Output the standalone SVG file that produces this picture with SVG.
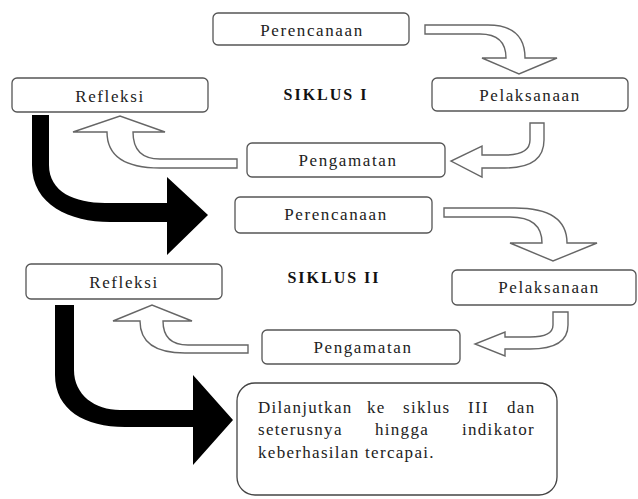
<svg xmlns="http://www.w3.org/2000/svg" width="638" height="499" viewBox="0 0 638 499">
<style>
.box{fill:#fff;stroke:#555;stroke-width:1.3}
.lbl{font-family:"Liberation Serif","Times New Roman",serif;font-size:17px;letter-spacing:1.6px;fill:#222;text-anchor:middle}
.ttl{font-family:"Liberation Serif","Times New Roman",serif;font-size:16px;font-weight:bold;letter-spacing:2px;fill:#111;text-anchor:middle}
.body{font-family:"Liberation Serif","Times New Roman",serif;font-size:17px;letter-spacing:1.3px;fill:#222}
.hol{fill:#fff;stroke:#666;stroke-width:1.4;stroke-linejoin:miter}
.blk{fill:#000;stroke:none}
</style>
<rect width="638" height="499" fill="#fff"/>
<g id="connectors">
  <path class="hol" d="M425,25 L488,25 Q525,25 525,58 L557,58 L519,74 L482,58 L506,58 Q506,34 480,34 L425,34 Z"/>
  <path class="hol" d="M530,123 L544,123 L544,140 Q544,168 505,168 L482,168 L482,177 L451,161 L482,146 L482,155 L505,155 Q530,155 530,140 Z"/>
  <path class="hol" d="M237,159 L237,168 L160,168 Q107,168 107,132 L73,132 L120,116 L165,132 L133,132 Q133,159 160,159 Z"/>
  <path class="blk" d="M32,115 L49,115 L49,165 C49,192 75,203 105,203 L167,203 L167,177 L208,215 L167,255 L167,222 L110,222 C70,222 32,205 32,165 Z"/>
  <path class="hol" d="M444,208 L515,208 Q567,208 567,243 L597,243 L553,261 L510,243 L542,243 Q542,217 510,217 L444,217 Z"/>
  <path class="hol" d="M553,312 L568,312 L568,325 Q568,349 530,349 L505,349 L505,356 L475,344 L505,332 L505,337 L530,337 Q553,337 553,325 Z"/>
  <path class="hol" d="M248,345 L248,353 L185,353 Q140,353 140,321 L113,321 L152,305 L192,321 L163,321 Q163,345 188,345 Z"/>
  <path class="blk" d="M55,305 L74,305 L74,370 C74,395 95,410 120,410 L193,410 L193,375 L233,420 L193,465 L193,427 L125,427 C85,427 55,410 55,375 Z"/>
</g>
<g id="perencanaan1">
  <rect class="box" x="213" y="13" width="196" height="32" rx="5"/>
  <text class="lbl" x="312" y="36">Perencanaan</text>
</g>
<g id="siklus1">
  <text class="ttl" x="326" y="100">SIKLUS I</text>
</g>
<g id="refleksi1">
  <rect class="box" x="12" y="78" width="196" height="34" rx="5"/>
  <text class="lbl" x="110" y="102">Refleksi</text>
</g>
<g id="pelaksanaan1">
  <rect class="box" x="432" y="78" width="196" height="33" rx="5"/>
  <text class="lbl" x="530" y="101">Pelaksanaan</text>
</g>
<g id="pengamatan1">
  <rect class="box" x="247" y="143" width="198" height="34" rx="5"/>
  <text class="lbl" x="348" y="166">Pengamatan</text>
</g>
<g id="perencanaan2">
  <rect class="box" x="235" y="197" width="197" height="36" rx="5"/>
  <text class="lbl" x="336" y="220">Perencanaan</text>
</g>
<g id="siklus2">
  <text class="ttl" x="334" y="283">SIKLUS II</text>
</g>
<g id="refleksi2">
  <rect class="box" x="26" y="264" width="196" height="35" rx="5"/>
  <text class="lbl" x="124" y="288">Refleksi</text>
</g>
<g id="pelaksanaan2">
  <rect class="box" x="452" y="270" width="184" height="35" rx="5"/>
  <text class="lbl" x="549" y="293">Pelaksanaan</text>
</g>
<g id="pengamatan2">
  <rect class="box" x="262" y="330" width="198" height="34" rx="5"/>
  <text class="lbl" x="363" y="353">Pengamatan</text>
</g>
<g id="lanjutan">
  <rect class="box" x="237" y="383" width="320" height="112" rx="18" style="stroke:#444"/>
  <text class="body" y="413"><tspan x="258">Dilanjutkan</tspan> <tspan x="367">ke</tspan> <tspan x="403">siklus</tspan> <tspan x="468">III</tspan> <tspan x="507">dan</tspan></text>
  <text class="body" y="435"><tspan x="258">seterusnya</tspan> <tspan x="375">hingga</tspan> <tspan x="462">indikator</tspan></text>
  <text class="body" x="258" y="458">keberhasilan tercapai.</text>
</g>
</svg>
